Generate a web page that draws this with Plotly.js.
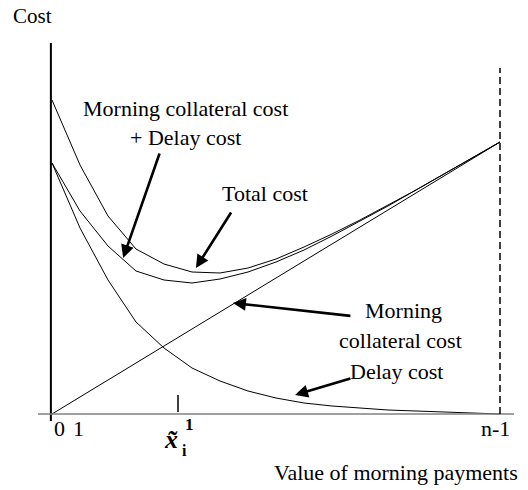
<!DOCTYPE html>
<html>
<head>
<meta charset="utf-8">
<script src="https://cdn.plot.ly/plotly-3.0.1.min.js"></script>
<style>
  html, body { margin: 0; padding: 0; background: #fff; }
  #chart { width: 528px; height: 490px; }
</style>
</head>
<body>
<div id="chart"></div>
<script>
// ---- data ----
const payments = [0, 1, 2, 3, 4, 5, 6, 7, 8, 9, 10, 11, 12, 13, 14, 15, 16];
const collateralPlusDelay = [31.4, 24.9, 19.8, 16.5, 15.0, 14.2, 14.1, 14.6, 15.5, 16.7, 18.0, 19.4, 20.9, 22.4, 24.0, 25.6, 27.2];
const totalCost = [25.1, 20.3, 16.8, 14.3, 13.4, 13.1, 13.5, 14.2, 15.2, 16.4, 17.8, 19.3, 20.8, 22.4, 24.0, 25.6, 27.2];
const collateralCost = [0, 1.7, 3.4, 5.1, 6.8, 8.5, 10.2, 11.9, 13.6, 15.3, 17.0, 18.7, 20.4, 22.1, 23.8, 25.5, 27.2];
const delayCost = [25.1, 18.6, 13.4, 9.2, 6.6, 4.6, 3.3, 2.3, 1.6, 1.1, 0.8, 0.6, 0.4, 0.3, 0.2, 0.1, 0];
const tickVals = [0, 1, 16];
const tickLabels = ['0', '1', 'n-1'];
const markedX = 4.5;
const lastX = 16;

const FONT = 'Liberation Serif, Times New Roman, serif';
const FS = 22;
const XR = [-0.5, 16.5], YR = [-0.7, 37.1];

function lineTrace(y) {
  return { x: payments, y: y, type: 'scatter', mode: 'lines',
           line: { color: '#000', width: 1 }, hoverinfo: 'skip', showlegend: false };
}
const data = [lineTrace(collateralPlusDelay), lineTrace(totalCost), lineTrace(collateralCost), lineTrace(delayCost)];

// text placed in paper space (so it may sit outside the plotting area), given in axis units
function txt(text, x, y, extra) {
  return Object.assign({ text: text,
    x: (x - XR[0]) / (XR[1] - XR[0]), y: (y - YR[0]) / (YR[1] - YR[0]),
    xref: 'paper', yref: 'paper', showarrow: false,
    font: { family: FONT, size: FS, color: '#000' }, xanchor: 'center', yanchor: 'middle' }, extra || {});
}
function arrow(x, y, ax, ay) {
  return { text: '', x: x, y: y, ax: ax, ay: ay, xref: 'x', yref: 'y', axref: 'x', ayref: 'y',
    showarrow: true, arrowhead: 2, arrowsize: 1, arrowwidth: 2.6, arrowcolor: '#000' };
}

const annotations = [
  txt('Cost', -0.68, 39.8, { font: { family: FONT, size: 21, color: '#000' } }),
  txt('Morning collateral cost', 4.75, 30.6),
  txt('+ Delay cost', 4.75, 27.7),
  txt('Total cost', 7.6, 22.1),
  txt('Morning', 12.55, 10.4),
  txt('collateral cost', 12.43, 7.4),
  txt('Delay cost', 12.3, 4.3),
  txt('Value of morning payments', 12.3, -5.8),
  txt(tickLabels[0], tickVals[0], -1.4, { xshift: 7 }),
  txt(tickLabels[1], tickVals[1], -1.4, { xshift: -2 }),
  txt(tickLabels[2], tickVals[2], -1.4, { xshift: -5 }),
  txt('<b><i>x̃</i></b>', markedX, -2.5, { xshift: -7, font: { family: FONT, size: 26, color: '#000' } }),
  txt('<b>1</b>', markedX, -1.0, { xshift: 11, font: { family: FONT, size: 17, color: '#000' } }),
  txt('<b>i</b>', markedX, -3.6, { xshift: 6, font: { family: FONT, size: 16, color: '#000' } }),
  arrow(2.54, 15.6, 3.86, 26.2),
  arrow(5.14, 14.6, 6.43, 20.3),
  arrow(6.46, 11.1, 10.71, 9.8),
  arrow(8.68, 1.9, 10.71, 3.6)
];

const shapes = [
  // vertical (cost) axis
  { type: 'line', xref: 'x', yref: 'y', x0: -0.04, x1: -0.04, y0: -0.7, y1: 37.1, line: { color: '#000', width: 2 } },
  // horizontal axis
  { type: 'line', xref: 'x', yref: 'y', x0: -0.5, x1: 16.5, y0: 0, y1: 0, line: { color: '#808080', width: 1.5 } },
  // dashed limit at n-1
  { type: 'line', xref: 'x', yref: 'y', x0: lastX, x1: lastX, y0: 0, y1: 34.6, line: { color: '#000', width: 1.5, dash: '7px,4px' } },
  // tick at the marked value
  { type: 'line', xref: 'x', yref: 'y', x0: markedX, x1: markedX, y0: 0.2, y1: 1.9, line: { color: '#000', width: 1.5 } }
];

const layout = {
  width: 528, height: 490,
  margin: { l: 38, r: 14, t: 43, b: 69 },
  paper_bgcolor: '#fff', plot_bgcolor: '#fff',
  showlegend: false,
  xaxis: { range: XR, visible: false, showgrid: false, zeroline: false },
  yaxis: { range: YR, visible: false, showgrid: false, zeroline: false },
  annotations: annotations,
  shapes: shapes,
  font: { family: FONT, color: '#000' }
};

Plotly.newPlot('chart', data, layout, { staticPlot: true, displayModeBar: false });
</script>
</body>
</html>
